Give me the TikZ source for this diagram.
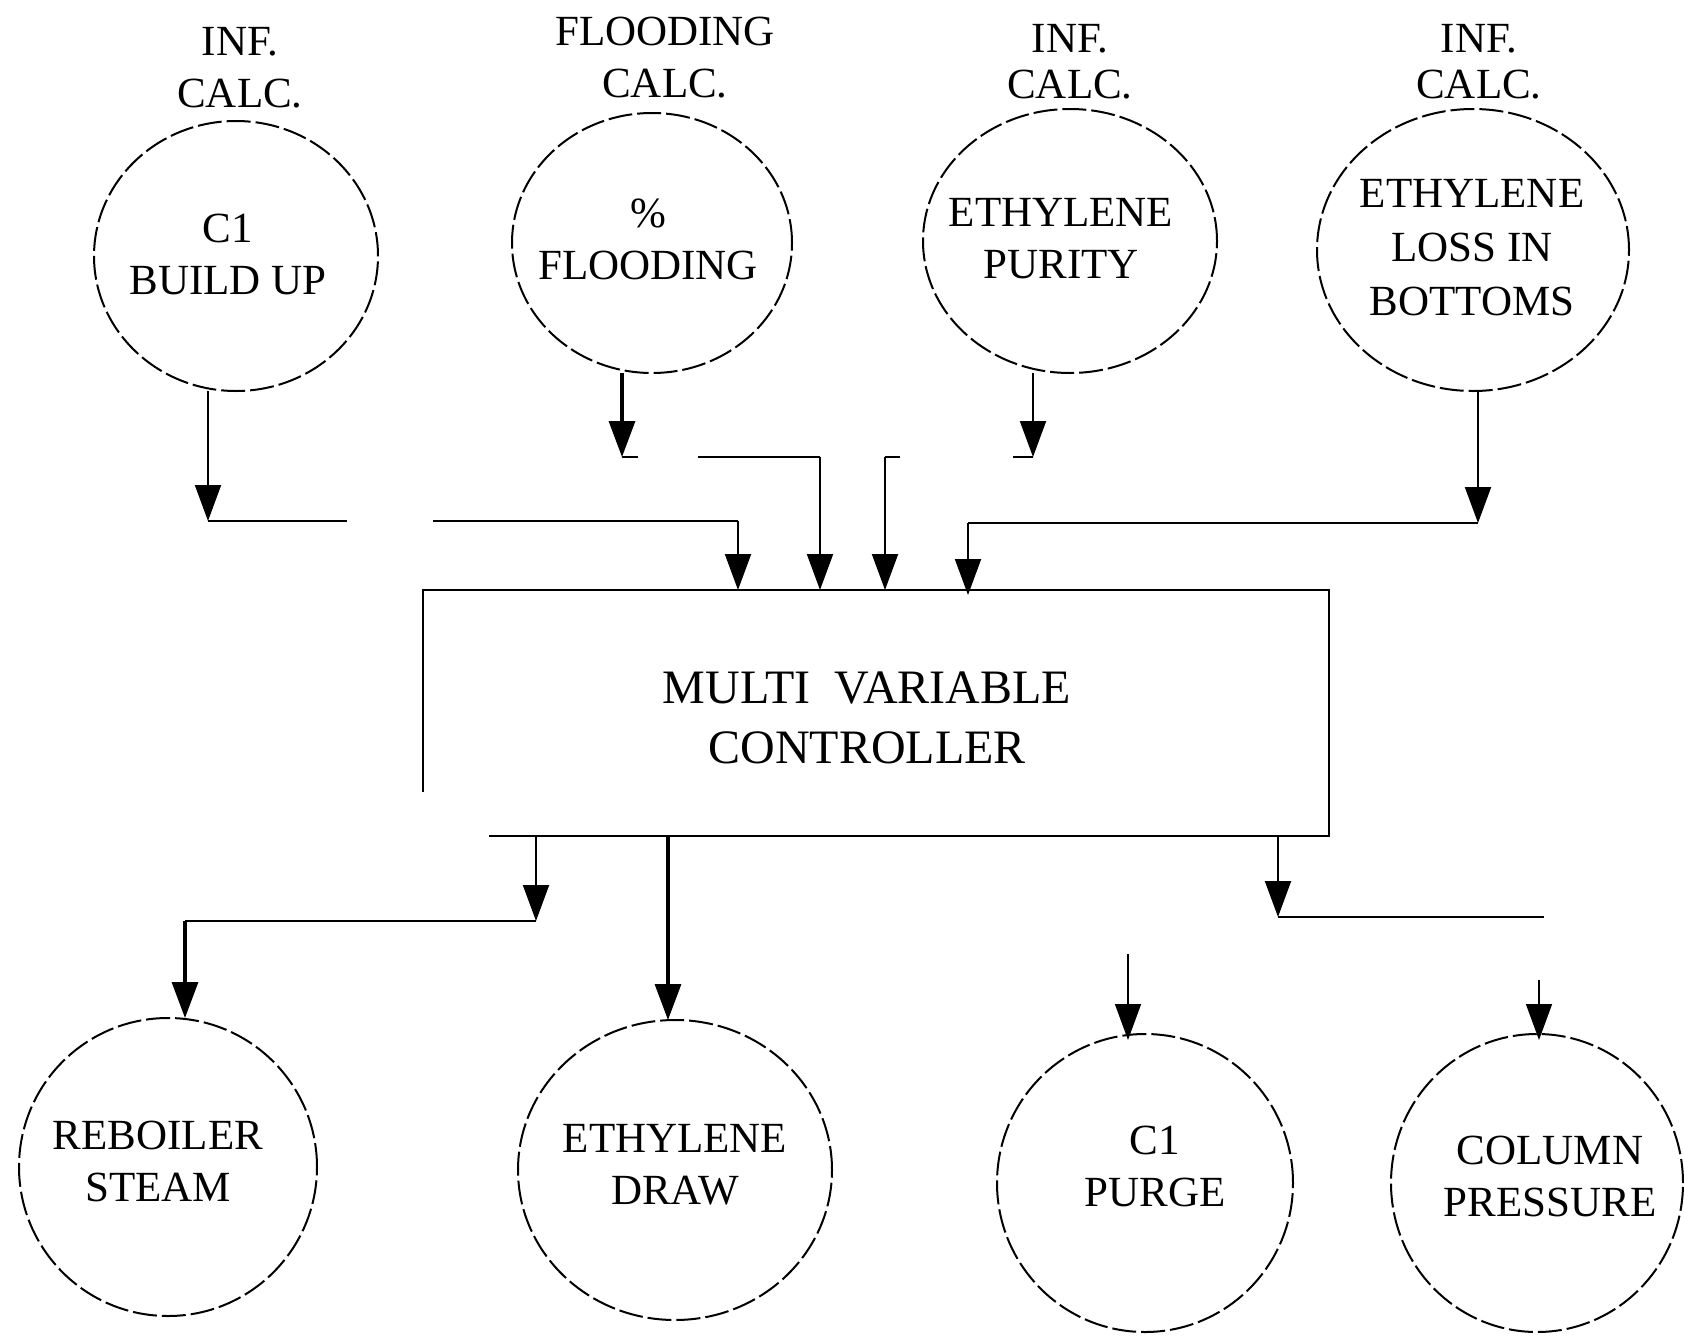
\documentclass[tikz,border=0pt]{standalone}
\usepackage{fontspec}
\setmainfont{Liberation Serif}
\usetikzlibrary{shapes.geometric,arrows.meta}
\begin{document}
\begin{tikzpicture}[x=1pt,y=-1pt,
  bubble/.style={ellipse, draw, line width=2pt, dash pattern=on 24pt off 5pt, inner sep=0pt, outer sep=0pt},
  lbl/.style={align=center, inner sep=0pt, font=\fontsize{43}{52}\selectfont},
  ln/.style={line width=2pt},
  arr/.style={line width=2pt, -{Triangle[width=26pt,length=36pt]}},
  heavy/.style={line width=3.2pt},
  light/.style={line width=1.5pt}
]
\useasboundingbox (0,0) rectangle (1684,1336);

% top circles
\node[bubble, minimum width=284pt, minimum height=270pt] (c1) at (236,256) {};
\node[bubble, minimum width=280pt, minimum height=260pt] (fl) at (652,243) {};
\node[bubble, minimum width=294pt, minimum height=264pt] (pu) at (1070,241) {};
\node[bubble, minimum width=312pt, minimum height=282pt] (bo) at (1473,250) {};
% bottom circles
\node[bubble, minimum width=298pt, minimum height=298pt] (re) at (168,1167) {};
\node[bubble, minimum width=314pt, minimum height=300pt] (ed) at (675,1170) {};
\node[bubble, minimum width=296pt, minimum height=298pt] (pg) at (1145,1183) {};
\node[bubble, minimum width=292pt, minimum height=298pt] (cp) at (1537,1183) {};

% controller box
\node[inner sep=0pt, outer sep=0pt, minimum width=906pt, minimum height=246pt] (mvc) at (876,713) {};
\coordinate (bl1) at (423,792);
\coordinate (bl2) at (489,836);
\draw[ln] (bl1) -- (mvc.north west) -- (mvc.north east) -- (mvc.south east) -- (bl2);

% texts
\node[lbl] (t1) at (240,68) {INF.\\CALC.};
\node[lbl] (t2) at (665,58) {FLOODING\\CALC.};
\node[lbl, font=\fontsize{43}{46}\selectfont] (t3) at (1070,62) {INF.\\CALC.};
\node[lbl, font=\fontsize{43}{46}\selectfont] (t4) at (1479,62) {INF.\\CALC.};
\node[lbl] (c1t) at (228,254) {C1\\BUILD UP};
\node[lbl] (flt) at (648,239) {\%\\FLOODING};
\node[lbl] (put) at (1061,239) {ETHYLENE\\PURITY};
\node[lbl, font=\fontsize{43}{54}\selectfont] (bot) at (1472,248) {ETHYLENE\\LOSS IN\\BOTTOMS};
\node[lbl, font=\fontsize{48}{60}\selectfont] (mvct) at (867,718) {MULTI\enspace VARIABLE\\CONTROLLER};
\node[lbl] (ret) at (158,1161) {REBOILER\\STEAM};
\node[lbl] (edt) at (675,1165) {ETHYLENE\\DRAW};
\node[lbl] (pgt) at (1155,1166) {C1\\PURGE};
\node[lbl] (cpt) at (1550,1176) {COLUMN\\PRESSURE};

% C1 build up -> controller
\coordinate (k1) at (208,521);
\coordinate (k1a) at (347,521);
\coordinate (k1b) at (433,521);
\coordinate (k1c) at (738,521);
\draw[arr] (c1.south -| k1) -- (k1);
\draw[ln] (k1) -- (k1a);
\draw[ln] (k1b) -- (k1c);
\draw[arr] (k1c) -- (k1c |- mvc.north);

% flooding -> controller
\coordinate (k2) at (622,457);
\coordinate (k2a) at (638,457);
\coordinate (k2b) at (698,457);
\coordinate (k2c) at (820,457);
\draw[arr, heavy] (fl.south -| k2) -- (k2);
\draw[ln] (k2) -- (k2a);
\draw[ln] (k2b) -- (k2c);
\draw[arr] (k2c) -- (k2c |- mvc.north);

% purity -> controller
\coordinate (k3) at (1033,457);
\coordinate (k3a) at (1013,457);
\coordinate (k3b) at (900,457);
\coordinate (k3c) at (885,457);
\draw[arr] (pu.south -| k3) -- (k3);
\draw[ln] (k3) -- (k3a);
\draw[ln] (k3b) -- (k3c);
\draw[arr] (k3c) -- (k3c |- mvc.north);

% bottoms -> controller
\coordinate (k4) at (1478,523);
\coordinate (k4c) at (968,523);
\draw[arr] (bo.south -| k4) -- (k4);
\draw[ln] (k4) -- (k4c);
\draw[arr] (k4c) -- ([yshift=-5pt]k4c |- mvc.north);

% controller -> reboiler steam
\coordinate (k5) at (536,921);
\coordinate (k5c) at (185,921);
\draw[arr] (k5 |- mvc.south) -- (k5);
\draw[ln] (k5) -- (k5c);
\draw[arr, heavy] (k5c) -- (k5c |- re.north);

% controller -> ethylene draw
\coordinate (k6) at (668,836);
\draw[arr, heavy] (k6) -- (k6 |- ed.north);

% controller -> right branch
\coordinate (k7) at (1278,917);
\coordinate (k7c) at (1544,917);
\draw[arr] (k7 |- mvc.south) -- (k7);
\draw[ln] (k7) -- (k7c);

% arrows into C1 purge and column pressure
\coordinate (k8) at (1128,954);
\coordinate (k9) at (1539,980);
\draw[arr, light] (k8) -- ([yshift=-6pt]k8 |- pg.north);
\draw[arr, light] (k9) -- ([yshift=-6pt]k9 |- cp.north);
\end{tikzpicture}
\end{document}
